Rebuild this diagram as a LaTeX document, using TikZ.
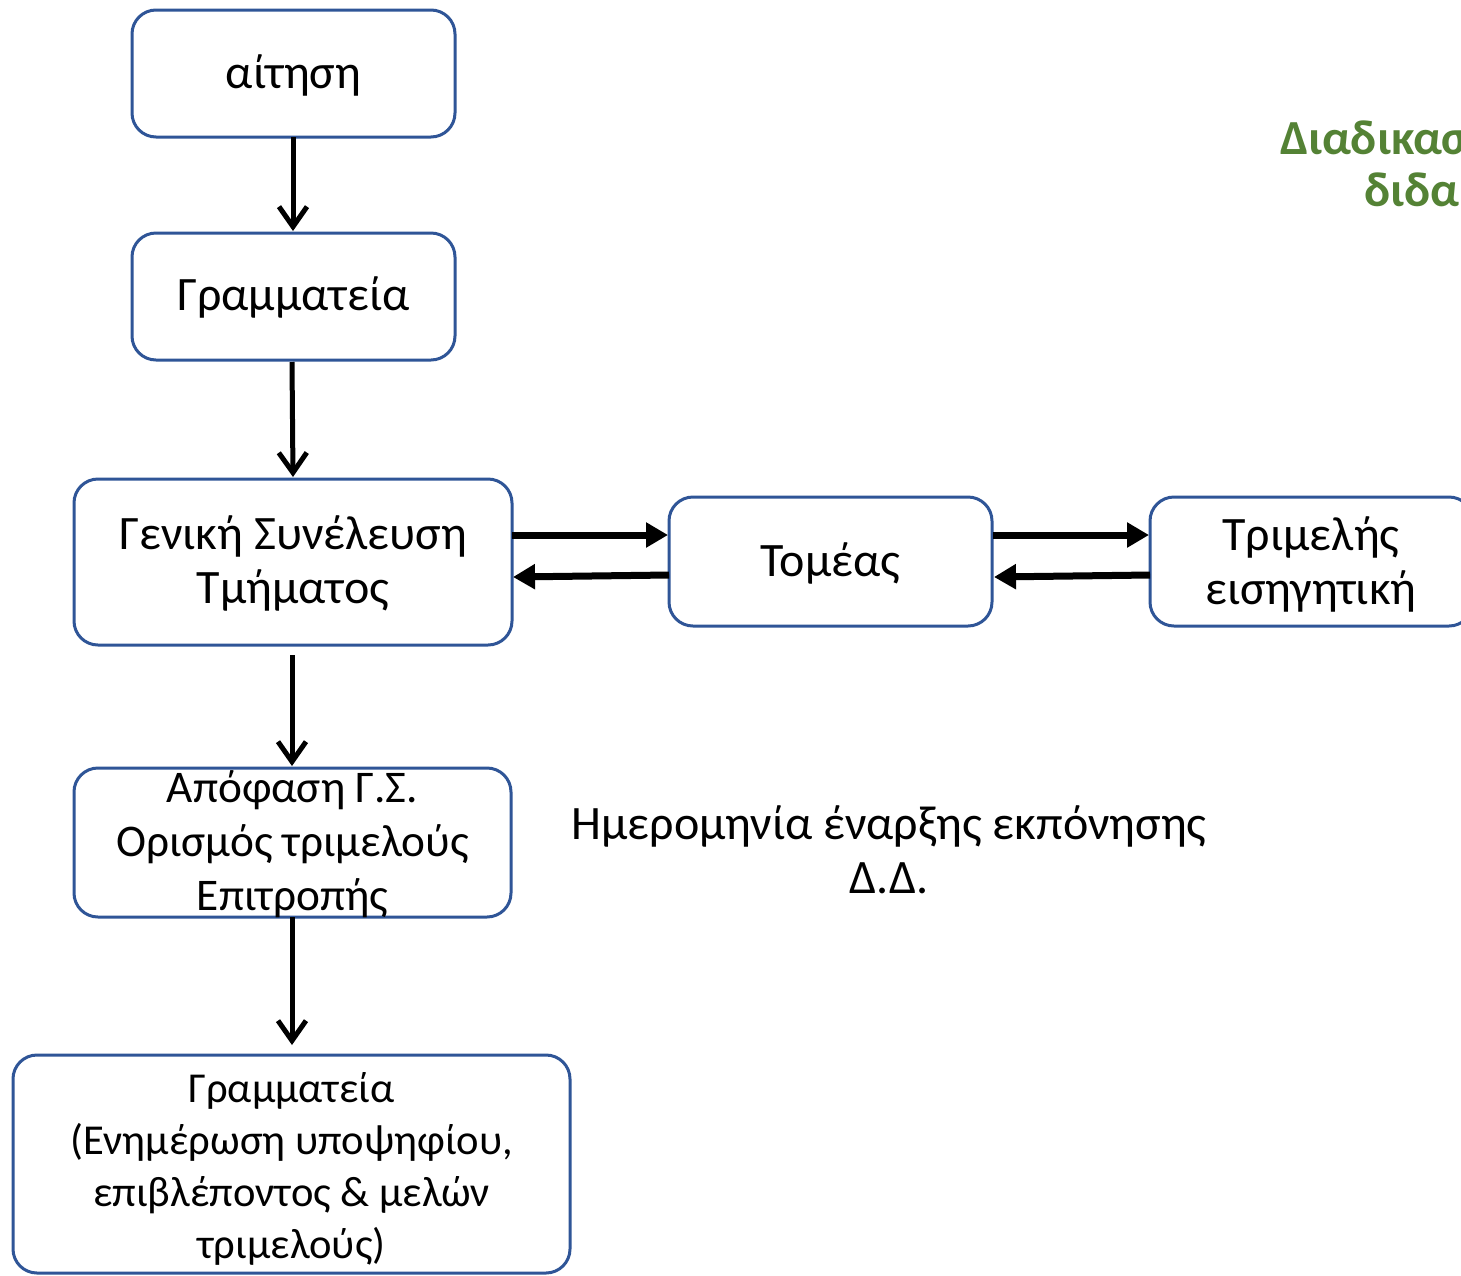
\documentclass[tikz,border=0pt]{standalone}
\usepackage{fontspec}
\setmainfont{Carlito}
\usetikzlibrary{arrows.meta}
\definecolor{boxblue}{RGB}{47,85,151}
\definecolor{titlegreen}{RGB}{84,130,53}
\tikzset{
  flowbox/.style={draw=boxblue, line width=3pt, rounded corners=24pt, fill=white},
  lbl/.style={align=center, font=\fontsize{48}{54}\selectfont, inner sep=0pt},
  down/.style={line width=5pt, -{Straight Barb[length=20pt,width=28pt]}},
  side/.style={line width=7pt, -{Triangle[length=22pt,width=24pt]}},
  greentitle/.style={lbl, anchor=west, text=titlegreen, font=\bfseries\fontsize{49}{56}\selectfont}
}
\begin{document}
\begin{tikzpicture}[x=1pt,y=-1pt]
\useasboundingbox (0,0) rectangle (1461,1275);
\clip (0,0) rectangle (1461,1275);
\fill[white] (0,0) rectangle (1461,1275);
% boxes
\draw[flowbox] (132,10) rectangle (455,137);
\node[lbl] (aitisi) at (293.5,75) {αίτηση};
\draw[flowbox] (132,233) rectangle (455,360);
\node[lbl] (gram1) at (293.5,297) {Γραμματεία};
\draw[flowbox] (74,479) rectangle (512,645);
\node[lbl] (gs) at (293,563) {Γενική Συνέλευση\\Τμήματος};
\draw[flowbox] (669,497) rectangle (992,626);
\node[lbl] (tomeas) at (830.5,563) {Τομέας};
\draw[flowbox] (1150,497) rectangle (1473,626);
\node[lbl] (trim) at (1311,564) {Τριμελής\\εισηγητική};
\draw[flowbox] (74,768) rectangle (511,917);
\node[lbl, font=\fontsize{45.3}{54}\selectfont] (apof) at (292.5,844) {Απόφαση Γ.Σ.\\Ορισμός τριμελούς\\Επιτροπής};
\draw[flowbox] (13,1055) rectangle (570,1273);
\node[lbl, font=\fontsize{42.6}{52}\selectfont] (gram2) at (291.5,1169) {Γραμματεία\\(Ενημέρωση υποψηφίου,\\επιβλέποντος \& μελών\\τριμελούς)};
% free text
\node[lbl] (date) at (889,850) {Ημερομηνία έναρξης εκπόνησης\\Δ.Δ.};
\node[greentitle] (title1) at (1280,137) {Διαδικασία};
\node[greentitle] (title2) at (1364,193) {διδακτορικής};
% anchors for connectors
\coordinate (a1) at (293,137); \coordinate (a2) at (293,231);
\coordinate (b1) at (292,362); \coordinate (b2) at (293,477);
\coordinate (c1) at (292,655); \coordinate (c2) at (292,766);
\coordinate (d1) at (292,917); \coordinate (d2) at (292,1045);
\coordinate (e1) at (512,535); \coordinate (e2) at (668,535);
\coordinate (f1) at (669,575); \coordinate (f2) at (513,577);
\coordinate (g1) at (993,535); \coordinate (g2) at (1149,535);
\coordinate (h1) at (1150,575); \coordinate (h2) at (994,577);
\draw[down] (a1) -- (a2);
\draw[down] (b1) -- (b2);
\draw[down] (c1) -- (c2);
\draw[down] (d1) -- (d2);
\draw[side] (e1) -- (e2);
\draw[side] (f1) -- (f2);
\draw[side] (g1) -- (g2);
\draw[side] (h1) -- (h2);
\end{tikzpicture}
\end{document}
